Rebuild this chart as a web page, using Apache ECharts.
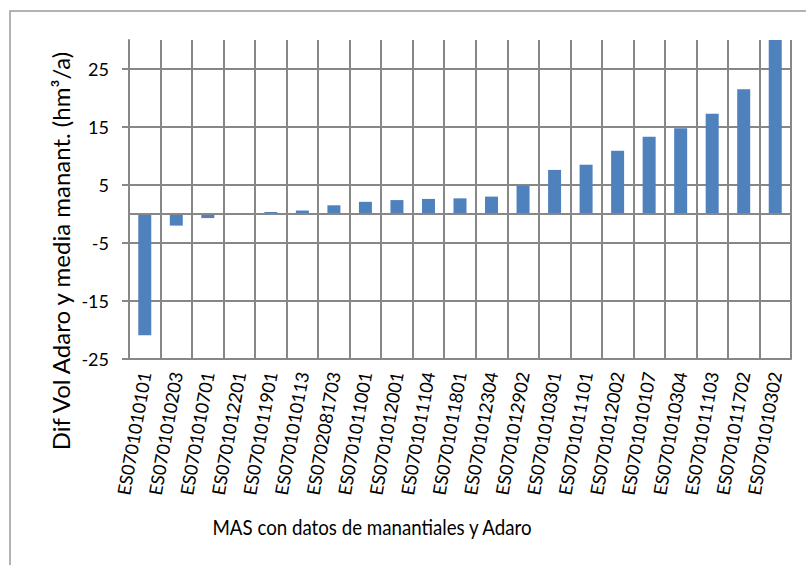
<!DOCTYPE html>
<html>
<head>
<meta charset="utf-8">
<script src="https://cdn.jsdelivr.net/npm/echarts@6/dist/echarts.min.js"></script>
<style>
  html, body { margin: 0; padding: 0; background: #fff; }
  #chart { width: 806px; height: 565px; }
</style>
</head>
<body>
<div id="chart"></div>
<script>
// categorias (MAS) y diferencia de volumen
var categorias = ['ES0701010101', 'ES0701010203', 'ES0701010701', 'ES0701012201', 'ES0701011901',
  'ES0701010113', 'ES0702081703', 'ES0701011001', 'ES0701012001', 'ES0701011104', 'ES0701011801',
  'ES0701012304', 'ES0701012902', 'ES0701010301', 'ES0701011101', 'ES0701012002', 'ES0701010107',
  'ES0701010304', 'ES0701011103', 'ES0701011702', 'ES0701010302'];
var difVol = [-20.9, -2.0, -0.7, 0, 0.35, 0.6, 1.5, 2.1, 2.4, 2.6, 2.7, 3.0,
  4.9, 7.6, 8.5, 10.9, 13.3, 14.8, 17.3, 21.5, 30];
var yTicks = [-25, -15, -5, 5, 15, 25];

var tituloY = 'Dif Vol Adaro y media manant. (hm³/a)';
var tituloX = 'MAS con datos de manantiales y Adaro';

var gris = '#878787';
var fuente = 'Lato';

var chart = echarts.init(document.getElementById('chart'), null, { renderer: 'svg' });

var option = {
  animation: false,
  backgroundColor: '#fff',
  textStyle: { fontFamily: fuente },
  grid: { left: 129, right: 15, top: 40, bottom: 206, containLabel: false },
  graphic: [
    {
      type: 'rect',
      shape: { x: 10, y: 11, width: 900, height: 700 },
      style: { fill: 'none', stroke: '#9a9a9a', lineWidth: 1.5 },
      silent: true
    },
    {
      type: 'text',
      x: 60, y: 251,
      rotation: Math.PI / 2,
      style: {
        text: tituloY, fontFamily: fuente, fontSize: 24, fill: '#000',
        align: 'center', verticalAlign: 'middle'
      },
      silent: true
    },
    {
      type: 'text',
      x: 372, y: 526,
      scaleX: 0.85,
      style: {
        text: tituloX, fontFamily: fuente, fontSize: 22, fill: '#000',
        align: 'center', verticalAlign: 'middle'
      },
      silent: true
    }
  ],
  xAxis: {
    type: 'category',
    data: categorias,
    axisLine: { onZero: false, show: true, lineStyle: { color: gris, width: 2 } },
    axisTick: { show: false },
    splitLine: { show: true, lineStyle: { color: gris, width: 2 } },
    axisLabel: {
      interval: 0, rotate: 80, margin: 13,
      fontSize: 18, color: '#000', fontFamily: fuente
    }
  },
  yAxis: {
    type: 'value',
    min: -25, max: 30, interval: 10,
    axisLine: { show: true, lineStyle: { color: gris, width: 2 } },
    axisTick: { show: true, inside: false, length: 7, customValues: yTicks,
      lineStyle: { color: gris, width: 2 } },
    axisLabel: { customValues: yTicks, margin: 20, fontSize: 18, color: '#000', fontFamily: fuente },
    splitLine: { show: true, lineStyle: { color: [gris, gris, gris, gris, gris, gris, 'rgba(0,0,0,0)'], width: 2 } }
  },
  series: [
    {
      type: 'bar',
      data: difVol,
      barWidth: 13,
      itemStyle: { color: '#4f81bd' },
      markLine: {
        silent: true,
        symbol: 'none',
        label: { show: false },
        lineStyle: { color: gris, width: 2, type: 'solid' },
        data: [{ yAxis: 0 }]
      }
    }
  ]
};

chart.setOption(option);
</script>
</body>
</html>
